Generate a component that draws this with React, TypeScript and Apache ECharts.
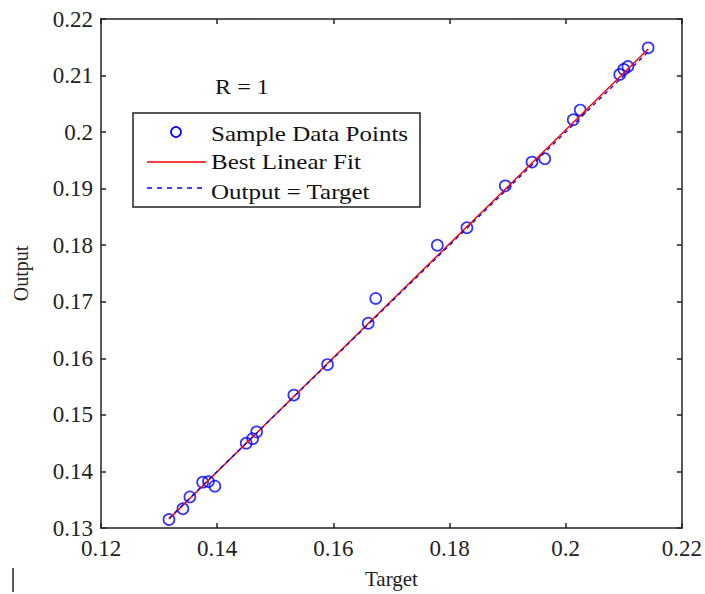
import React, { useEffect, useRef } from "react";
import * as echarts from "echarts";

const xTicks = { min: 0.12, max: 0.22, interval: 0.02 };
const yTicks = { min: 0.13, max: 0.22, interval: 0.01 };

const targets = [
  0.1317, 0.1341, 0.1353, 0.1375, 0.1385, 0.1396, 0.145, 0.1461, 0.1468, 0.1532,
  0.159, 0.166, 0.1673, 0.1779, 0.183, 0.1896, 0.1942, 0.1964, 0.2013, 0.2025,
  0.2093, 0.21, 0.2107, 0.2142,
];
const outputs = [
  0.1315, 0.1334, 0.1355, 0.1381, 0.1382, 0.1374, 0.145, 0.1458, 0.147, 0.1535,
  0.1589, 0.1662, 0.1706, 0.18, 0.1831, 0.1905, 0.1947, 0.1953, 0.2022, 0.2039,
  0.2102, 0.2111, 0.2116, 0.2149,
];
const fitLine = [
  [0.1317, 0.1316],
  [0.2142, 0.2147],
];
const identityLine = [
  [0.1317, 0.1317],
  [0.2142, 0.2142],
];

const legendNames = ["Sample Data Points", "Best Linear Fit", "Output = Target"];
const rLabel = "R = 1";

const SERIF = "'Liberation Serif', 'DejaVu Serif', serif";

export default function App() {
  const ref = useRef<HTMLDivElement>(null);
  useEffect(() => {
    if (!ref.current) return;
    const chart = echarts.init(ref.current, undefined, { renderer: "svg" });
    const axisColor = "#222";
    const labelStyle = { color: "#222", fontSize: 23, fontFamily: SERIF };
    const scatterData = targets.map((t, i) => [t, outputs[i]]);
    chart.setOption({
      animation: false,
      backgroundColor: "#fff",
      grid: { left: 101, right: 21, top: 19, bottom: 62, containLabel: false },
      xAxis: [
        {
          type: "value",
          min: xTicks.min,
          max: xTicks.max,
          interval: xTicks.interval,
          name: "Target",
          nameLocation: "middle",
          nameGap: 40,
          nameTextStyle: { color: "#222", fontSize: 21, fontFamily: SERIF },
          axisLine: { show: true, lineStyle: { color: axisColor, width: 1.5 } },
          axisTick: { show: true, inside: true, length: 5, lineStyle: { color: axisColor, width: 1.5 } },
          axisLabel: { ...labelStyle, margin: 9 },
          splitLine: { show: false },
        },
        {
          type: "value",
          position: "top",
          min: xTicks.min,
          max: xTicks.max,
          interval: xTicks.interval,
          axisLine: { show: true, onZero: false, lineStyle: { color: axisColor, width: 1.5 } },
          axisTick: { show: true, inside: true, length: 5, lineStyle: { color: axisColor, width: 1.5 } },
          axisLabel: { show: false },
          splitLine: { show: false },
        },
      ],
      yAxis: [
        {
          type: "value",
          min: yTicks.min,
          max: yTicks.max,
          interval: yTicks.interval,
          name: "Output",
          nameLocation: "middle",
          nameGap: 70,
          nameTextStyle: { color: "#222", fontSize: 20, fontFamily: SERIF },
          axisLine: { show: true, lineStyle: { color: axisColor, width: 1.5 } },
          axisTick: { show: true, inside: true, length: 5, lineStyle: { color: axisColor, width: 1.5 } },
          axisLabel: { ...labelStyle, margin: 8 },
          splitLine: { show: false },
        },
        {
          type: "value",
          position: "right",
          min: yTicks.min,
          max: yTicks.max,
          interval: yTicks.interval,
          axisLine: { show: true, onZero: false, lineStyle: { color: axisColor, width: 1.5 } },
          axisTick: { show: true, inside: true, length: 5, lineStyle: { color: axisColor, width: 1.5 } },
          axisLabel: { show: false },
          splitLine: { show: false },
        },
      ],
      series: [
        {
          name: legendNames[0],
          type: "scatter",
          data: scatterData,
          symbol: "circle",
          symbolSize: 11,
          itemStyle: { color: "rgba(0,0,0,0)", borderColor: "#0000ff", borderWidth: 1.7 },
          z: 3,
        },
        {
          name: legendNames[1],
          type: "line",
          data: fitLine,
          showSymbol: false,
          symbol: "none",
          lineStyle: { color: "#ff0000", width: 1.5 },
          z: 4,
        },
        {
          name: legendNames[2],
          type: "line",
          data: identityLine,
          showSymbol: false,
          symbol: "none",
          lineStyle: { color: "#0000ff", width: 1.3, type: [4, 4] },
          z: 5,
        },
      ],
      graphic: [
        {
          type: "text",
          x: 215,
          y: 87,
          z: 100,
          scaleX: 1.15,
          style: { text: rLabel, fill: "#111", fontSize: 21, fontFamily: SERIF, verticalAlign: "middle" },
        },
        {
          type: "rect",
          z: 100,
          shape: { x: 133, y: 113, width: 287, height: 94 },
          style: { fill: "#fff", stroke: "#222", lineWidth: 1.5 },
        },
        {
          type: "circle",
          z: 101,
          shape: { cx: 176, cy: 132, r: 5 },
          style: { fill: "none", stroke: "#0000ff", lineWidth: 1.7 },
        },
        {
          type: "line",
          z: 101,
          shape: { x1: 147, y1: 162, x2: 206, y2: 162 },
          style: { stroke: "#ff0000", lineWidth: 1.5 },
        },
        {
          type: "line",
          z: 101,
          shape: { x1: 147, y1: 188, x2: 206, y2: 188 },
          style: { stroke: "#0000ff", lineWidth: 1.5, lineDash: [5, 5] },
        },
        ...legendNames.map((n, i) => ({
          type: "text",
          x: 211,
          y: [134, 162, 192][i],
          z: 101,
          scaleX: 1.19,
          style: { text: n, fill: "#111", fontSize: 21, fontFamily: SERIF, verticalAlign: "middle" },
        })),
        {
          type: "line",
          z: 100,
          shape: { x1: 13, y1: 568, x2: 13, y2: 592 },
          style: { stroke: "#222", lineWidth: 1.5 },
        },
      ],
    });
    return () => chart.dispose();
  }, []);
  return <div ref={ref} style={{ width: 705, height: 594, position: "absolute", left: 0, top: 0 }} />;
}
